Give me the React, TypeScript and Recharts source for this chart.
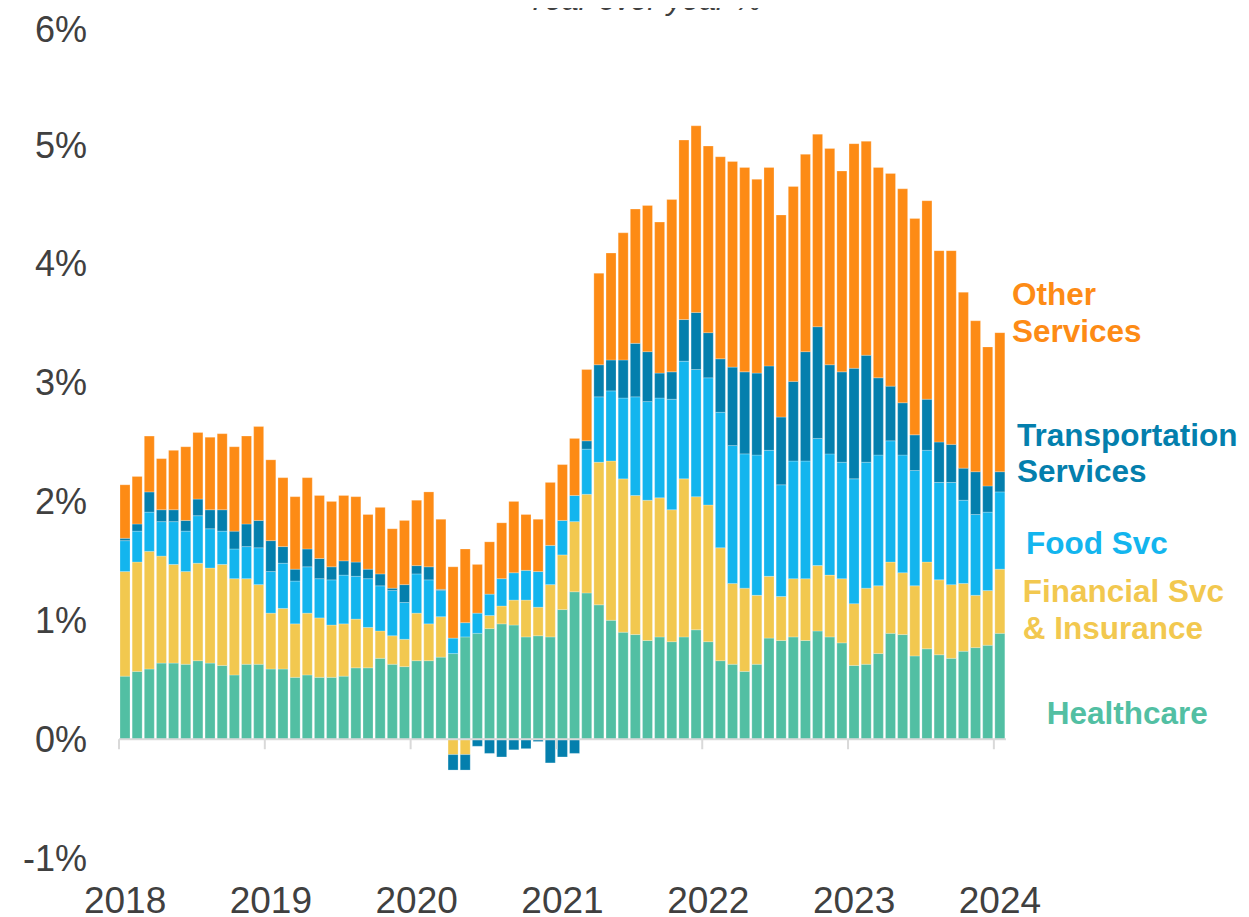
import React from 'react';
import { BarChart, Bar, XAxis, YAxis, ReferenceLine } from 'recharts';

// monthly categories, Jan 2018 .. Jan 2024
const MONTHS: string[] = [];
for (let y = 2018; y <= 2024; y++) {
  for (let m = 1; m <= 12; m++) {
    if (y === 2024 && m > 1) break;
    MONTHS.push(`${y}-${String(m).padStart(2, '0')}`);
  }
}

const YEAR_TICKS = ['2018-01', '2019-01', '2020-01', '2021-01', '2022-01', '2023-01', '2024-01'];
const Y_TICKS = [-1, 0, 1, 2, 3, 4, 5, 6];

// contributions, percentage points
const healthcare = [
  0.53, 0.57, 0.59, 0.64, 0.64, 0.63, 0.66, 0.64, 0.62, 0.54, 0.63, 0.63,
  0.59, 0.59, 0.52, 0.54, 0.52, 0.52, 0.53, 0.60, 0.60, 0.68, 0.63, 0.61,
  0.66, 0.66, 0.69, 0.72, 0.86, 0.89, 0.93, 0.97, 0.96, 0.86, 0.87, 0.86,
  1.09, 1.24, 1.23, 1.13, 1.00, 0.90, 0.88, 0.83, 0.86, 0.82, 0.86, 0.92,
  0.82, 0.66, 0.63, 0.57, 0.63, 0.85, 0.83, 0.86, 0.83, 0.91, 0.86, 0.81,
  0.62, 0.63, 0.72, 0.89, 0.88, 0.70, 0.76, 0.71, 0.68, 0.74, 0.77, 0.79,
  0.89,
];
const financial = [
  0.88, 0.92, 0.99, 0.90, 0.83, 0.78, 0.82, 0.80, 0.85, 0.81, 0.72, 0.67,
  0.47, 0.51, 0.45, 0.52, 0.50, 0.44, 0.44, 0.41, 0.34, 0.23, 0.24, 0.23,
  0.40, 0.31, 0.34, -0.13, -0.13, 0.0, 0.11, 0.15, 0.21, 0.31, 0.24, 0.44,
  0.46, 0.59, 0.83, 1.20, 1.34, 1.29, 1.17, 1.18, 1.17, 1.11, 1.33, 1.12,
  1.15, 0.95, 0.68, 0.70, 0.58, 0.52, 0.37, 0.49, 0.52, 0.55, 0.52, 0.54,
  0.52, 0.64, 0.57, 0.60, 0.52, 0.59, 0.73, 0.63, 0.62, 0.57, 0.44, 0.46,
  0.54,
];
const food = [
  0.26, 0.26, 0.33, 0.29, 0.36, 0.34, 0.40, 0.33, 0.28, 0.25, 0.27, 0.31,
  0.35, 0.38, 0.36, 0.39, 0.33, 0.38, 0.41, 0.36, 0.41, 0.38, 0.38, 0.31,
  0.33, 0.37, 0.22, 0.13, 0.12, 0.17, 0.18, 0.23, 0.23, 0.25, 0.30, 0.33,
  0.29, 0.22, 0.38, 0.55, 0.59, 0.68, 0.83, 0.83, 0.84, 0.93, 0.99, 1.07,
  1.07, 1.14, 1.16, 1.13, 1.18, 1.06, 0.94, 0.99, 0.99, 1.07, 1.02, 0.98,
  1.05, 1.06, 1.10, 1.02, 0.99, 0.97, 0.94, 0.82, 0.86, 0.70, 0.68, 0.66,
  0.65,
];
const transport = [
  0.02, 0.06, 0.17, 0.10, 0.10, 0.09, 0.14, 0.16, 0.18, 0.15, 0.19, 0.23,
  0.26, 0.14, 0.10, 0.15, 0.17, 0.11, 0.12, 0.12, 0.08, 0.10, 0.02, 0.15,
  0.07, 0.11, 0.01, -0.13, -0.13, -0.06, -0.12, -0.15, -0.09, -0.08, -0.02, -0.20,
  -0.15, -0.12, 0.07, 0.27, 0.26, 0.32, 0.45, 0.42, 0.21, 0.23, 0.35, 0.48,
  0.38, 0.45, 0.66, 0.69, 0.69, 0.71, 0.57, 0.67, 0.92, 0.94, 0.75, 0.76,
  0.93, 0.90, 0.65, 0.46, 0.44, 0.30, 0.43, 0.34, 0.32, 0.27, 0.36, 0.22,
  0.17,
];
const other = [
  0.45, 0.40, 0.47, 0.43, 0.50, 0.62, 0.56, 0.61, 0.64, 0.71, 0.74, 0.79,
  0.68, 0.58, 0.61, 0.60, 0.53, 0.55, 0.55, 0.55, 0.46, 0.56, 0.50, 0.54,
  0.55, 0.63, 0.59, 0.60, 0.62, 0.41, 0.44, 0.47, 0.60, 0.47, 0.44, 0.53,
  0.47, 0.48, 0.60, 0.77, 0.90, 1.07, 1.13, 1.23, 1.27, 1.45, 1.51, 1.57,
  1.57, 1.70, 1.73, 1.72, 1.63, 1.67, 1.70, 1.64, 1.66, 1.62, 1.82, 1.69,
  1.89, 1.80, 1.77, 1.79, 1.80, 1.82, 1.67, 1.61, 1.63, 1.48, 1.27, 1.17,
  1.17,
];

const SERIES = [
  { key: 'healthcare', color: '#52BFA3' },
  { key: 'financial', color: '#F2C84F' },
  { key: 'food', color: '#13B5EE' },
  { key: 'transport', color: '#047FAD' },
  { key: 'other', color: '#FD8B15' },
];

const data = MONTHS.map((month, i) => ({
  month,
  healthcare: healthcare[i],
  financial: financial[i],
  food: food[i],
  transport: transport[i],
  other: other[i],
}));

const FONT = '"Liberation Sans", Arial, sans-serif';
const TEXT = '#404040';
const AXIS = '#D9D9D9';

// side labels (svg overlay, baseline coords)
const LABELS = [
  { lines: ['Other', 'Services'], x: 1004, y: 297, dy: 36.7, color: '#FD8B15' },
  { lines: ['Transportation', 'Services'], x: 1009, y: 437.7, dy: 36.6, color: '#047FAD' },
  { lines: ['Food Svc'], x: 1018, y: 546, dy: 0, color: '#13B5EE' },
  { lines: ['Financial Svc', '& Insurance'], x: 1014.7, y: 593.7, dy: 37.6, color: '#F2C84F' },
  { lines: ['Healthcare'], x: 1038.7, y: 716, dy: 0, color: '#52BFA3' },
];

const OVER = 30; // overlay starts above the page so the clipped title can show

export default function App() {
  return (
    <div style={{ position: 'relative', width: 1233, height: 909 }}>
      <BarChart
        width={1233}
        height={909}
        data={data}
        stackOffset="sign"
        barCategoryGap={1}
        margin={{ top: 18, right: 235, bottom: 0, left: 0 }}
      >
        <XAxis
          dataKey="month"
          ticks={YEAR_TICKS}
          interval={0}
          tickFormatter={(v: string) => v.slice(0, 4)}
          axisLine={false}
          tickLine={false}
          tickSize={6}
          tickMargin={23}
          height={59}
          tick={{ fontSize: 37, fill: TEXT, fontFamily: FONT }}
        />
        <YAxis
          domain={[-1, 6]}
          ticks={Y_TICKS}
          tickFormatter={(v: number) => `${v}%`}
          axisLine={false}
          tickLine={false}
          tickSize={6}
          tickMargin={26}
          width={111}
          tick={{ fontSize: 36, fill: TEXT, fontFamily: FONT }}
        />
        {SERIES.map((s) => (
          <Bar
            key={s.key}
            dataKey={s.key}
            stackId="a"
            fill={s.color}
            stroke="#ffffff"
            strokeOpacity={0.4}
            strokeWidth={0.6}
            isAnimationActive={false}
          />
        ))}
        <ReferenceLine y={0} stroke={AXIS} strokeWidth={2} />
        {YEAR_TICKS.map((t) => (
          <ReferenceLine
            key={t}
            segment={[{ x: t, y: 0 }, { x: t, y: -0.085 }]}
            position="start"
            stroke={AXIS}
            strokeWidth={2}
          />
        ))}
      </BarChart>

      <svg
        width={1241}
        height={909 + OVER}
        style={{ position: 'absolute', top: -OVER, left: 0, overflow: 'visible', pointerEvents: 'none' }}
      >
        <g transform={`translate(0, ${OVER})`}>
          <text x={636} y={2} textAnchor="middle" fontSize={30.4} fontStyle="italic" fill={TEXT} fontFamily={FONT}>
            Year-over-year %
          </text>
          {LABELS.map((l) =>
            l.lines.map((line, j) => (
              <text
                key={l.lines[0] + j}
                x={l.x}
                y={l.y + j * l.dy}
                fontSize={31.5}
                fontWeight="bold"
                fill={l.color}
                fontFamily={FONT}
              >
                {line}
              </text>
            ))
          )}
        </g>
      </svg>
    </div>
  );
}
